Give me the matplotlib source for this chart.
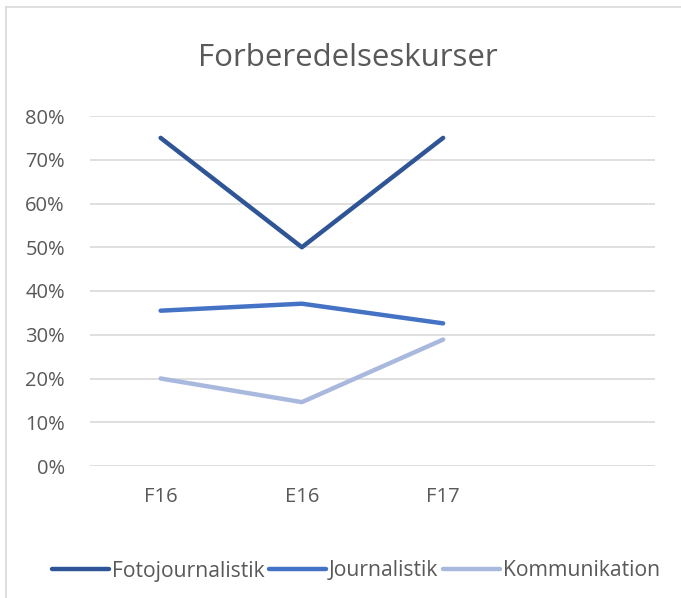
import matplotlib
matplotlib.use("Agg")
import matplotlib.pyplot as plt
from matplotlib.lines import Line2D
from matplotlib.ticker import PercentFormatter

categories = ["F16", "E16", "F17", ""]
series_names = ["Fotojournalistik", "Journalistik", "Kommunikation"]
fotojournalistik = [75.0, 50.0, 75.0]
journalistik = [35.5, 37.1, 32.6]
kommunikation = [20.0, 14.6, 28.9]
colors = ["#2F5597", "#4472C4", "#A9B8DD"]

plt.rcParams['font.family'] = ['Open Sans', 'DejaVu Sans']
text_color = "#595959"

fig = plt.figure(figsize=(6.81, 5.98), dpi=100)
ax = fig.add_axes([90/681, 1-466/598, 565/681, 350/598])

x = list(range(len(fotojournalistik)))
for vals, name, c in zip([fotojournalistik, journalistik, kommunikation], series_names, colors):
    ax.plot(x, vals, color=c, lw=3.2, solid_capstyle='round', solid_joinstyle='round', label=name, zorder=3)

ax.set_xlim(-0.5, len(categories) - 0.5)
ax.set_ylim(0, 80)
ax.set_yticks(range(0, 81, 10))
ax.yaxis.set_major_formatter(PercentFormatter(decimals=0))
ax.set_xticks(range(len(categories)))
ax.set_xticklabels(categories)
ax.grid(axis='y', color="#D9D9D9", lw=1.2, zorder=0)
ax.set_axisbelow(True)
for s in ax.spines.values():
    s.set_visible(False)
ax.tick_params(axis='both', length=0, labelsize=14.5, colors=text_color)
ax.tick_params(axis='y', pad=18)
ax.tick_params(axis='x', pad=15)

fig.text(348/681, 1-58/598, "Forberedelseskurser", ha='center', va='center', fontsize=22.5, color=text_color)

leg = fig.legend(handles=[Line2D([0], [0], color=c, lw=3.2, solid_capstyle='round') for c in colors],
                 labels=series_names, loc='center', bbox_to_anchor=(356/681, 1-571/598), ncol=3,
                 frameon=False, fontsize=15.2, handlelength=2.7, handletextpad=0.15, columnspacing=0.2,
                 labelcolor=text_color, borderpad=0)

# chart border (left and top)
fig.add_artist(Line2D([6/681, 6/681], [0, 1-7/598], color="#D9D9D9", lw=1.2, transform=fig.transFigure))
fig.add_artist(Line2D([6/681, 1], [1-7/598, 1-7/598], color="#D9D9D9", lw=1.2, transform=fig.transFigure))

fig.savefig("out.png", dpi=100)
